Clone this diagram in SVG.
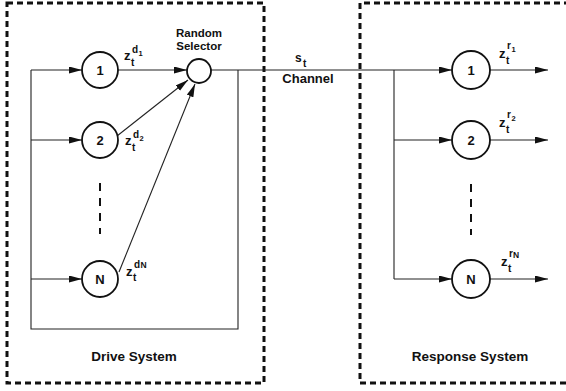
<svg xmlns="http://www.w3.org/2000/svg" width="566" height="391" viewBox="0 0 566 391">
  <style>
    .box { fill: none; stroke: #111; stroke-width: 3; stroke-dasharray: 6 4; }
    .wire { fill: none; stroke: #222; stroke-width: 1.1; }
    .arrow { fill: none; stroke: #222; stroke-width: 1.1; marker-end: url(#head); }
    .ellipsis { fill: none; stroke: #111; stroke-width: 2; stroke-dasharray: 8 7; }
    .node { fill: #fff; stroke: #111; stroke-width: 1.8; }
    text { font-family: "Liberation Sans", Arial, sans-serif; font-weight: bold; fill: #111; }
    .num { font-size: 13px; text-anchor: middle; }
    .title { font-size: 13.5px; text-anchor: middle; }
    .cap { font-size: 11.5px; text-anchor: middle; }
    .z { font-size: 13px; }
    .sup { font-size: 10px; }
    .idx { font-size: 7.5px; }
  </style>
  <defs>
    <marker id="head" markerUnits="userSpaceOnUse" markerWidth="14" markerHeight="8" refX="13" refY="3.5" orient="auto">
      <path d="M0,0 L13,3.5 L0,7 Z" fill="#111"/>
    </marker>
  </defs>

  <!-- subsystem frames -->
  <g id="drive-frame">
    <rect class="box" x="7" y="3" width="257" height="380"/>
    <text class="title" x="134" y="361">Drive System</text>
  </g>
  <g id="response-frame">
    <path class="box" d="M570,3 H360 V383 H570"/>
    <text class="title" x="470" y="361">Response System</text>
  </g>

  <!-- connectors -->
  <g id="connectors">
    <!-- drive feedback loop -->
    <path class="wire" d="M238,70 V329 H31 V70"/>
    <line class="arrow" x1="31" y1="70" x2="82" y2="70"/>
    <line class="arrow" x1="31" y1="140" x2="82" y2="140"/>
    <line class="arrow" x1="31" y1="279" x2="82" y2="279"/>
    <!-- drive outputs into the selector -->
    <line class="arrow" x1="118" y1="70" x2="187" y2="70"/>
    <line class="arrow" x1="117" y1="136" x2="188" y2="80"/>
    <line class="arrow" x1="119" y1="272" x2="195" y2="84"/>
    <!-- channel -->
    <line class="arrow" x1="211" y1="70" x2="452" y2="70"/>
    <!-- response fan-out -->
    <path class="wire" d="M394,70 V279"/>
    <line class="arrow" x1="394" y1="140" x2="452" y2="140"/>
    <line class="arrow" x1="394" y1="279" x2="452" y2="279"/>
    <!-- response outputs -->
    <line class="arrow" x1="490" y1="70" x2="548" y2="70"/>
    <line class="arrow" x1="490" y1="140" x2="548" y2="140"/>
    <line class="arrow" x1="490" y1="279" x2="548" y2="279"/>
    <!-- omitted units -->
    <line class="ellipsis" x1="100" y1="183" x2="100" y2="234"/>
    <line class="ellipsis" x1="471" y1="184" x2="471" y2="235"/>
  </g>

  <!-- drive units -->
  <g id="drive-1">
    <circle class="node" cx="100" cy="70" r="18"/>
    <text class="num" x="100" y="75">1</text>
    <text class="z" x="124" y="60">z</text>
    <text class="sup" x="132" y="53">d</text>
    <text class="idx" x="138.5" y="56">1</text>
    <text class="sup" x="131" y="66">t</text>
  </g>
  <g id="drive-2">
    <circle class="node" cx="100" cy="140" r="18"/>
    <text class="num" x="100" y="145">2</text>
    <text class="z" x="125" y="145">z</text>
    <text class="sup" x="133" y="138">d</text>
    <text class="idx" x="139.5" y="141">2</text>
    <text class="sup" x="132" y="151">t</text>
  </g>
  <g id="drive-n">
    <circle class="node" cx="100" cy="279" r="18"/>
    <text class="num" x="100" y="284">N</text>
    <text class="z" x="126" y="276">z</text>
    <text class="sup" x="134" y="268">d</text>
    <text class="sup" x="140.5" y="268" style="font-size:8.5px">N</text>
    <text class="sup" x="133" y="281">t</text>
  </g>

  <!-- random selector -->
  <g id="selector">
    <circle class="node" cx="199" cy="71" r="12"/>
    <text class="cap" x="199" y="37">Random</text>
    <text class="cap" x="199" y="50">Selector</text>
  </g>

  <!-- channel signal -->
  <g id="channel">
    <text x="295" y="62" style="font-size:12px">s</text>
    <text x="303" y="67" style="font-size:10px">t</text>
    <text x="308" y="83" style="font-size:13px;text-anchor:middle">Channel</text>
  </g>

  <!-- response units -->
  <g id="response-1">
    <circle class="node" cx="471" cy="70" r="19"/>
    <text class="num" x="471" y="75">1</text>
    <text class="z" x="499" y="58">z</text>
    <text class="sup" x="507" y="49">r</text>
    <text class="idx" x="511.5" y="52">1</text>
    <text class="sup" x="506" y="64">t</text>
  </g>
  <g id="response-2">
    <circle class="node" cx="471" cy="140" r="19"/>
    <text class="num" x="471" y="145">2</text>
    <text class="z" x="499" y="127">z</text>
    <text class="sup" x="507" y="118">r</text>
    <text class="idx" x="511.5" y="121">2</text>
    <text class="sup" x="506" y="133">t</text>
  </g>
  <g id="response-n">
    <circle class="node" cx="471" cy="279" r="19"/>
    <text class="num" x="471" y="284">N</text>
    <text class="z" x="501" y="266">z</text>
    <text class="sup" x="509" y="257">r</text>
    <text class="sup" x="513" y="258" style="font-size:8.5px">N</text>
    <text class="sup" x="508" y="272">t</text>
  </g>
</svg>
